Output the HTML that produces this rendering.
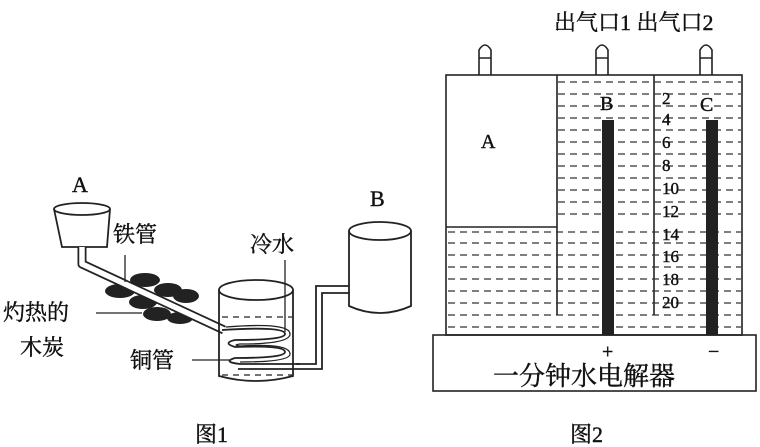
<!DOCTYPE html>
<html><head><meta charset="utf-8"><style>
body{margin:0;background:#fff;}
svg{display:block;}
text{font-family:"Liberation Serif","Noto Serif CJK SC",serif;fill:#111;stroke:#111;stroke-width:0.4;}
</style></head><body>
<svg width="760" height="447" viewBox="0 0 760 447" xmlns="http://www.w3.org/2000/svg">
<g stroke="#222" stroke-width="1.8" fill="none">
<ellipse cx="82" cy="209" rx="28" ry="6" fill="#fff"/>
<path d="M54 209 L62 247 L107 247 L110 209"/>
</g>
<g fill="#222">
<ellipse cx="145" cy="280" rx="15" ry="7"/>
<ellipse cx="120" cy="291" rx="15" ry="7"/>
<ellipse cx="168" cy="290" rx="14" ry="7"/>
<ellipse cx="186" cy="296" rx="13" ry="7"/>
<ellipse cx="143" cy="302" rx="14" ry="7"/>
<ellipse cx="157" cy="314" rx="14" ry="7"/>
<ellipse cx="180" cy="318" rx="13" ry="6"/>
</g>
<g fill="none" stroke-linejoin="round">
<path d="M82 247 L82 264 L224 330" stroke="#222" stroke-width="9"/>
<path d="M82 247 L82 264 L224 330" stroke="#fff" stroke-width="5.5"/>
</g>
<g stroke="#222" stroke-width="1.8" fill="none">
<ellipse cx="256" cy="290" rx="37" ry="10" fill="#fff"/>
<path d="M219 290 L219 376 Q256 386 293 376 L293 290"/>
<path d="M222 317 H292 M222 375 H292" stroke-dasharray="6 5" stroke-width="1.3"/>
<path d="M222 330 Q285 326 285 334 Q285 340 235 340 Q222 343 235 347 Q285 345 285 352 Q285 358 235 358 Q222 362 240 364 L300 364"/>
<path d="M226 327 Q290 322 290 334 Q290 344 240 344 Q232 345 240 346 Q290 343 290 354 Q290 362 240 362" stroke-width="1.3"/>
<path d="M238 369 L322 369 L322 293 L349 293"/>
<path d="M296 364 L316 364 L316 286 L349 286"/>
<ellipse cx="380" cy="231" rx="31" ry="9" fill="#fff"/>
<path d="M349 231 L349 306 Q380 320 411 306 L411 231"/>
<path d="M125 255 V282 M285 260 V332 M96 313 H142 M192 360 H230" stroke-width="1.3"/>
</g>
<g font-size="22">
<text x="72" y="192">A</text>
<text x="370" y="206">B</text>
<text x="113" y="242">铁管</text>
<text x="250" y="252">冷水</text>
<text x="3" y="320">灼热的</text>
<text x="20" y="355">木炭</text>
<text x="130" y="368">铜管</text>
<text x="195" y="442">图1</text>
<text x="570" y="442">图2</text>
<text x="554" y="30">出气口1 出气口2</text>
</g>
<g stroke="#222" stroke-width="1.6" fill="none">
<path d="M479 75 V50 Q485 40 491 50 V75 M479 58 H491"/>
<path d="M596 75 V50 Q602 40 608 50 V75 M596 58 H608"/>
<path d="M700 75 V50 Q706 40 712 50 V75 M700 58 H712"/>
<rect x="446" y="75" width="296" height="260"/>
<rect x="433" y="335" width="323" height="56"/>
<path d="M557 75 V315 M654 75 V315 M446 227 H557"/>
</g>
<g stroke="#333" stroke-width="1.3" stroke-dasharray="7 5">
<path d="M558 82 H741 M558 94 H741 M558 106 H741 M558 118 H741 M558 130 H741 M558 142 H741 M558 154 H741 M558 166 H741 M558 178 H741 M558 190 H741 M558 202 H741 M558 214 H741"/>
<path d="M448 232 H741 M448 243 H741 M448 255 H741 M448 267 H741 M448 279 H741 M448 291 H741 M448 303 H741 M448 315 H741 M448 327 H741"/>
</g>
<rect x="602" y="120" width="12" height="215" fill="#222"/>
<rect x="706" y="120" width="12" height="215" fill="#222"/>
<g font-size="20">
<text x="481" y="148">A</text>
<text x="600" y="110">B</text>
<text x="700" y="111">C</text>
</g>
<g font-size="17">
<text x="662" y="104">2</text><text x="662" y="125">4</text><text x="662" y="148">6</text><text x="662" y="171">8</text>
<text x="662" y="194">10</text><text x="662" y="217">12</text><text x="662" y="240">14</text><text x="662" y="262">16</text><text x="662" y="285">18</text><text x="662" y="308">20</text>
</g>
<text x="602" y="358" font-size="20">+</text>
<text x="708" y="358" font-size="20">−</text>
<text x="493" y="385" font-size="26">一分钟水电解器</text>
</svg>
</body></html>
